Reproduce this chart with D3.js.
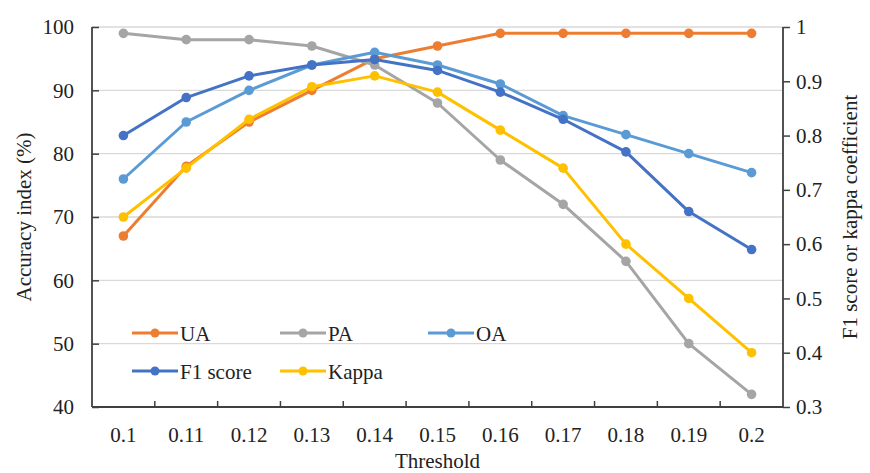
<!DOCTYPE html>
<html><head><meta charset="utf-8">
<script src="https://cdn.jsdelivr.net/npm/d3@7"></script>
<style>
body{margin:0;background:#fff;}
svg{display:block;}
svg text{font-family:"Liberation Serif","Times New Roman","DejaVu Serif",serif;}
</style></head>
<body>
<svg id="c" width="870" height="473"></svg>
<script>
const thresholds = ["0.1","0.11","0.12","0.13","0.14","0.15","0.16","0.17","0.18","0.19","0.2"];
const UA = [67,78,85,90,95,97,99,99,99,99,99];
const PA = [99,98,98,97,94,88,79,72,63,50,42];
const OA = [76,85,90,94,96,94,91,86,83,80,77];
const F1 = [0.80,0.87,0.91,0.93,0.94,0.92,0.88,0.83,0.77,0.66,0.59];
const Kappa = [0.65,0.74,0.83,0.89,0.91,0.88,0.81,0.74,0.60,0.50,0.40];
const leftTicks = [40,50,60,70,80,90,100];
const rightTicks = [0.3,0.4,0.5,0.6,0.7,0.8,0.9,1];

const series = [
  {name:"UA", values:UA, axis:"left", color:"#ED7D31"},
  {name:"PA", values:PA, axis:"left", color:"#A5A5A5"},
  {name:"OA", values:OA, axis:"left", color:"#5B9BD5"},
  {name:"F1 score", values:F1, axis:"right", color:"#4472C4"},
  {name:"Kappa", values:Kappa, axis:"right", color:"#FFC000"}
];

const svg = d3.select("#c");
const L = 92, R = 783, T = 27, B = 407;
const x = d3.scaleBand().domain(thresholds).range([L,R]);
const yL = d3.scaleLinear().domain([40,100]).range([B,T]);
const yR = d3.scaleLinear().domain([0.3,1]).range([B,T]);
const fs = 21;
const FONT = '"Liberation Serif","Times New Roman","DejaVu Serif",serif';

// gridlines
svg.append("g").selectAll("line").data(leftTicks.filter(d=>d>40)).join("line")
  .attr("x1",L).attr("x2",R).attr("y1",d=>yL(d)).attr("y2",d=>yL(d))
  .attr("stroke","#d9d9d9").attr("stroke-width",1.3);

// left axis
const gl = svg.append("g").attr("transform",`translate(${L},0)`)
  .call(d3.axisLeft(yL).tickValues(leftTicks).tickSize(-7).tickPadding(18).tickFormat(d3.format("d")));
// right axis
const gr = svg.append("g").attr("transform",`translate(${R},0)`)
  .call(d3.axisRight(yR).tickValues(rightTicks).tickSize(7).tickPadding(6).tickFormat(d=>d===1?"1":d3.format(".1f")(d)));
// bottom axis
const tickPos = d3.range(1,thresholds.length).map(i=>L + i*x.step());
const gb = svg.append("g").attr("transform",`translate(0,${B})`)
  .call(d3.axisBottom(x).tickSize(0).tickPadding(20));
gb.selectAll(".tick line").remove();
gb.append("g").selectAll("line").data(tickPos).join("line")
  .attr("x1",d=>d).attr("x2",d=>d).attr("y1",0).attr("y2",-6).attr("stroke","#404040").attr("stroke-width",1.5);

[gl,gr,gb].forEach(g=>{
  g.attr("font-family",null).attr("font-size",null);
  g.selectAll(".domain").attr("stroke","#404040").attr("stroke-width",1.8);
  g.selectAll(".tick line").attr("stroke","#404040").attr("stroke-width",1.5);
  g.selectAll("text").attr("font-size",fs).attr("fill","#222").style("font-family",FONT);
});
gl.select(".domain").attr("d",`M0,${T}V${B}`);
gr.select(".domain").attr("d",`M0,${T}V${B}`);
gb.select(".domain").attr("d",`M${L},0H${R}`);

// lines
series.forEach(s=>{
  const ys = s.axis==="left"?yL:yR;
  const pts = s.values.map((v,i)=>[x(thresholds[i])+x.bandwidth()/2, ys(v)]);
  svg.append("path").attr("d",d3.line()(pts)).attr("fill","none")
    .attr("stroke",s.color).attr("stroke-width",3).attr("stroke-linejoin","round");
  svg.append("g").selectAll("circle").data(pts).join("circle")
    .attr("cx",d=>d[0]).attr("cy",d=>d[1]).attr("r",4.8).attr("fill",s.color);
});

// axis titles
svg.append("text").attr("transform",`translate(31,${(T+B)/2}) rotate(-90)`)
  .attr("text-anchor","middle").attr("font-size",fs).attr("fill","#222").style("font-family",FONT).text("Accuracy index (%)");
svg.append("text").attr("transform",`translate(852,${(T+B)/2}) rotate(-90)`)
  .attr("text-anchor","middle").attr("dominant-baseline","middle").attr("font-size",fs).attr("fill","#222").style("font-family",FONT).text("F1 score or kappa coefficient");
svg.append("text").attr("x",(L+R)/2).attr("y",468)
  .attr("text-anchor","middle").attr("font-size",fs).attr("fill","#222").style("font-family",FONT).text("Threshold");

// legend
const legPos = [[132,333],[280,333],[428,333],[132,371],[280,371]];
series.forEach((s,i)=>{
  const [lx,ly] = legPos[i];
  const g = svg.append("g").attr("transform",`translate(${lx},${ly})`);
  g.append("line").attr("x1",0).attr("x2",46).attr("y1",0).attr("y2",0).attr("stroke",s.color).attr("stroke-width",3);
  g.append("circle").attr("cx",23).attr("cy",0).attr("r",4.5).attr("fill",s.color);
  g.append("text").attr("x",48).attr("y",7.5).attr("font-size",fs).attr("fill","#222").style("font-family",FONT).text(s.name);
});
</script>
</body></html>
